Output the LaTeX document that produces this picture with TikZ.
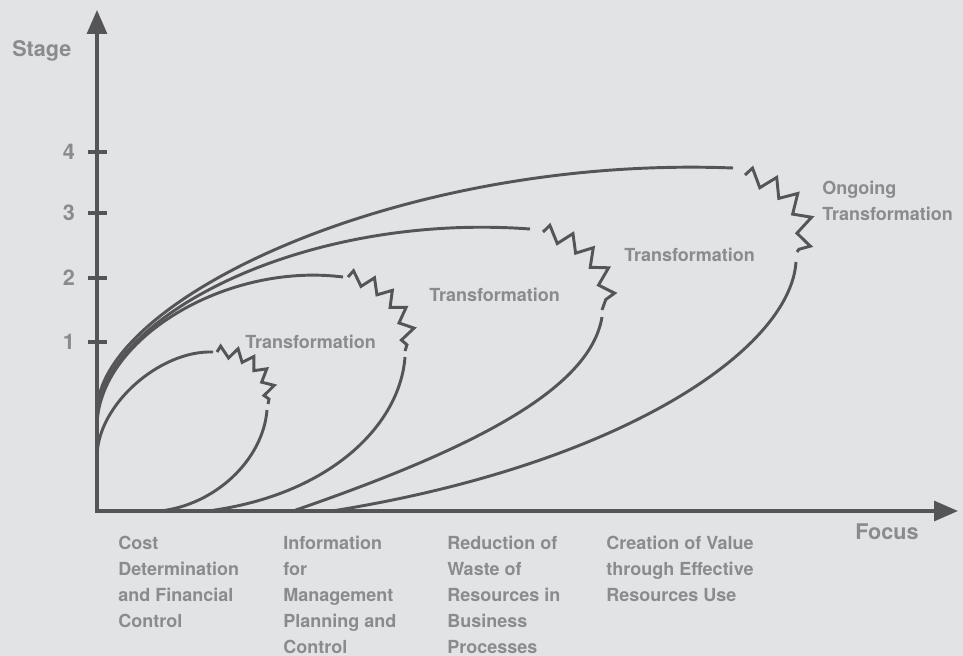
\documentclass[tikz,border=0pt]{standalone}
\usepackage{fontspec}
\setmainfont{TeX Gyre Heros}
\usetikzlibrary{arrows.meta,decorations.pathmorphing}
\definecolor{bg}{HTML}{E2E3E5}
\definecolor{ink}{HTML}{555557}
\definecolor{lbl}{HTML}{8A8B8D}
\begin{document}
\begin{tikzpicture}[x=0.75pt,y=-0.75pt,
  curve/.style={draw=ink,line width=2.2pt},
  axisline/.style={draw=ink,line width=2.4pt},
  jag/.style 2 args={curve,decorate,decoration={zigzag,amplitude=#1,segment length=#2}},
  lab/.style={text=lbl,font=\fontsize{13.5}{19.4}\selectfont\bfseries,inner sep=0pt},
  biglab/.style={text=lbl,font=\fontsize{16.2}{19}\selectfont\bfseries,inner sep=0pt}]
% canvas
\fill[bg] (0,0) rectangle (963,656);
\useasboundingbox (0,0) rectangle (963,656);

% axes
\coordinate (O) at (97,511);
\coordinate (ytop) at (97,10);
\coordinate (xtip) at (958,511);
\draw[axisline,{Triangle[length=18pt,width=15pt]}-{Triangle[length=18pt,width=15pt]}] (ytop) -- (O) -- (xtip);
\node[biglab,anchor=west] (stage) at (12,51) {Stage};
\node[biglab,anchor=west] (focus) at (855,532) {Focus};

% ticks on the stage axis
\foreach \v/\y in {1/342,2/278,3/213,4/152}{
  \draw[axisline] (88,\y) -- (107,\y);
  \node[biglab] (t\v) at (69,\y) {\v};
}

% loop 1
\coordinate (u1) at (97,457);  \coordinate (z1a) at (217,352);
\coordinate (z1b) at (268,404); \coordinate (l1) at (267,410);
\coordinate (e1) at (160,511);
\draw[curve] (u1) .. controls (97,405) and (160,350) .. (213,352);
\draw[jag={4.2pt}{12pt}] (z1a) .. controls (248,350) and (276,375) .. (z1b);
\draw[curve] (l1) .. controls (263,460) and (215,505) .. (e1);

% loop 2
\coordinate (u2) at (97,427);  \coordinate (z2a) at (348,277);
\coordinate (z2b) at (405,351); \coordinate (l2) at (405,357);
\coordinate (e2) at (208,511);
\draw[curve] (u2) .. controls (97,340) and (225,262) .. (343,277);
\draw[jag={5pt}{15pt}] (z2a) .. controls (385,280) and (418,320) .. (z2b);
\draw[curve] (l2) .. controls (400,425) and (330,495) .. (e2);

% loop 3
\coordinate (u3) at (97,420);  \coordinate (z3a) at (543,232);
\coordinate (z3b) at (602,310); \coordinate (l3) at (602,317);
\coordinate (e3) at (293,511);
\draw[curve] (u3) .. controls (97,320) and (300,212) .. (530,229);
\draw[jag={5.8pt}{17pt}] (z3a) .. controls (590,240) and (618,280) .. (z3b);
\draw[curve] (l3) .. controls (590,390) and (470,450) .. (e3);

% loop 4
\coordinate (u4) at (97,412);  \coordinate (z4a) at (745,175);
\coordinate (z4b) at (797,252); \coordinate (l4) at (796,262);
\coordinate (e4) at (332,511);
\draw[curve] (u4) .. controls (97,300) and (400,155) .. (733,168);
\draw[jag={6.2pt}{18pt}] (z4a) .. controls (795,185) and (818,225) .. (z4b);
\draw[curve] (l4) .. controls (790,350) and (620,465) .. (e4);

% transformation labels
\node[lab,anchor=west] (tr1) at (245,342) {Transformation};
\node[lab,anchor=west] (tr2) at (429,295) {Transformation};
\node[lab,anchor=west] (tr3) at (624,255) {Transformation};
\node[lab,anchor=north west,align=left] (tr4) at (822,181) {Ongoing\\Transformation};

% focus categories
\node[lab,anchor=north west,align=left] (f1) at (118,536) {Cost\\Determination\\and Financial\\Control};
\node[lab,anchor=north west,align=left] (f2) at (283,536) {Information\\for\\Management\\Planning and\\Control};
\node[lab,anchor=north west,align=left] (f3) at (447,536) {Reduction of\\Waste of\\Resources in\\Business\\Processes};
\node[lab,anchor=north west,align=left] (f4) at (606,536) {Creation of Value\\through Effective\\Resources Use};
\end{tikzpicture}
\end{document}
